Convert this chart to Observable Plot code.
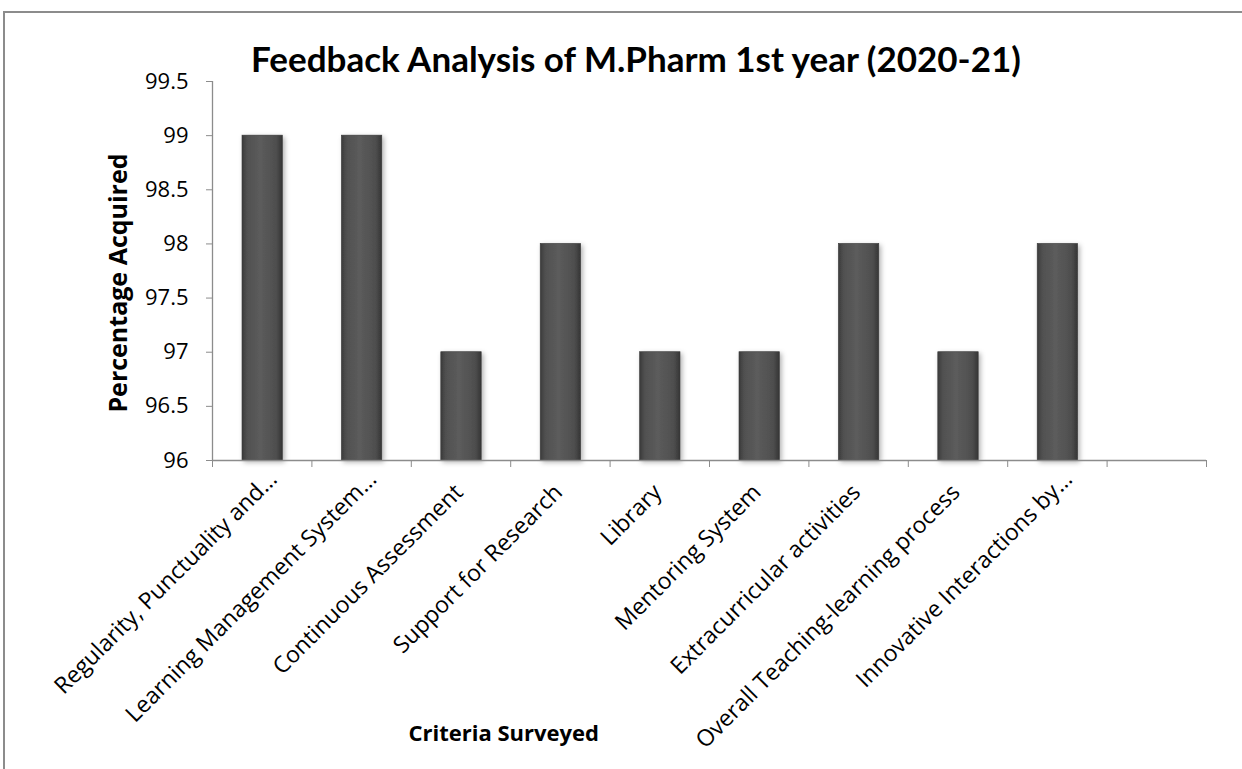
<!DOCTYPE html>
<html>
<head>
<meta charset="utf-8">
<script src="https://cdn.jsdelivr.net/npm/d3@7"></script>
<script src="https://cdn.jsdelivr.net/npm/@observablehq/plot@0.6"></script>
<style>
  html, body { margin: 0; padding: 0; background: #fff; }
  #wrap { position: relative; width: 1242px; height: 769px; overflow: hidden; font-family: "Open Sans", Lato, sans-serif; }
  #border { position: absolute; left: 3px; top: 11px; width: 1260px; height: 800px; border: 2px solid #8c8c8c; box-sizing: border-box; }
  #title { position: absolute; left: 0; width: 1272px; top: 37px; text-align: center; font-family: Lato, sans-serif; font-weight: bold; font-size: 35px; line-height: 42px; color: #000; }
  #chart { position: absolute; left: 0; top: 0; }
</style>
</head>
<body>
<div id="wrap">
  <div id="border"></div>
  <div id="chart"></div>
  <div id="title">Feedback Analysis of M.Pharm 1st year (2020-21)</div>
</div>
<script>
const categories = [
  "Regularity, Punctuality and…",
  "Learning Management System…",
  "Continuous Assessment",
  "Support for Research",
  "Library",
  "Mentoring System",
  "Extracurricular activities",
  "Overall Teaching-learning process",
  "Innovative Interactions by…",
  ""
];
const values = [99, 99, 97, 98, 97, 97, 98, 97, 98];
const yTicks = [96, 96.5, 97, 97.5, 98, 98.5, 99, 99.5];
const yTitle = "Percentage Acquired";
const xTitle = "Criteria Surveyed";

const data = values.map((v, i) => ({idx: i, name: categories[i], value: v}));
const slots = categories.map((c, i) => i);
const truncated = slots.filter(i => categories[i].endsWith("…"));
const full = slots.filter(i => !categories[i].endsWith("…"));

const plot = Plot.plot({
  width: 1242,
  height: 769,
  marginTop: 81,
  marginBottom: 309,
  marginLeft: 212,
  marginRight: 36,
  style: {fontFamily: "'Open Sans', Lato, sans-serif", background: "transparent", color: "#000"},
  x: {type: "linear", domain: [0, categories.length], axis: null},
  y: {domain: [96, 99.5], axis: null},
  marks: [
    Plot.rectY(data, {
      x1: d => d.idx, x2: d => d.idx + 1, y1: 96, y2: "value",
      insetLeft: 30, insetRight: 29, fill: "url(#barGrad)", stroke: "#3a3a3a", strokeWidth: 0.6,
      className: "bar"
    }),
    Plot.ruleX([0], {y1: 96, y2: 99.5, stroke: "#8c8c8c", strokeWidth: 1.3}),
    Plot.ruleY([96], {x1: 0, x2: categories.length, stroke: "#8c8c8c", strokeWidth: 1.3}),
    Plot.axisY({ticks: yTicks, tickSize: 6, tickPadding: 18, fontSize: 22, stroke: "#8c8c8c", label: null, tickFormat: d => String(d)}),
    Plot.axisX({ticks: d3.range(categories.length + 1), tickSize: 7, tickFormat: () => "", stroke: "#8c8c8c", label: null}),
    Plot.axisX({
      ticks: full.map(i => i + 0.5), tickSize: 0, tickRotate: -45, fontSize: 23,
      tickFormat: v => categories[Math.round(v - 0.5)], tickPadding: 10, label: null,
      dx: -2, dy: 18
    }),
    Plot.axisX({
      ticks: truncated.map(i => i + 0.5), tickSize: 0, tickRotate: -45, fontSize: 23,
      tickFormat: v => categories[Math.round(v - 0.5)], tickPadding: 10, label: null,
      dx: 11, dy: 5
    }),
    Plot.text([yTitle], {frameAnchor: "left", dx: -94, dy: 12, rotate: -90, textAnchor: "middle", fontSize: 25, fontWeight: "bold", text: d => d}),
    Plot.text([xTitle], {x: [2.93], y: [96], dy: 273, fontSize: 22, fontWeight: "bold", text: d => d})
  ]
});

const ns = "http://www.w3.org/2000/svg";
const defs = document.createElementNS(ns, "defs");
defs.innerHTML = `
  <linearGradient id="barGrad" x1="0" x2="1" y1="0" y2="0">
    <stop offset="0" stop-color="#3a3a3a"/>
    <stop offset="0.12" stop-color="#505050"/>
    <stop offset="0.45" stop-color="#5c5c5c"/>
    <stop offset="0.85" stop-color="#4e4e4e"/>
    <stop offset="1" stop-color="#353535"/>
  </linearGradient>
  <filter id="barShadow" x="-30%" y="-10%" width="160%" height="130%">
    <feDropShadow dx="2" dy="2" stdDeviation="2.5" flood-color="#000" flood-opacity="0.3"/>
  </filter>`;
plot.insertBefore(defs, plot.firstChild);
plot.querySelectorAll("g.bar").forEach(g => g.setAttribute("filter", "url(#barShadow)"));
document.getElementById("chart").appendChild(plot);
</script>
</body>
</html>
